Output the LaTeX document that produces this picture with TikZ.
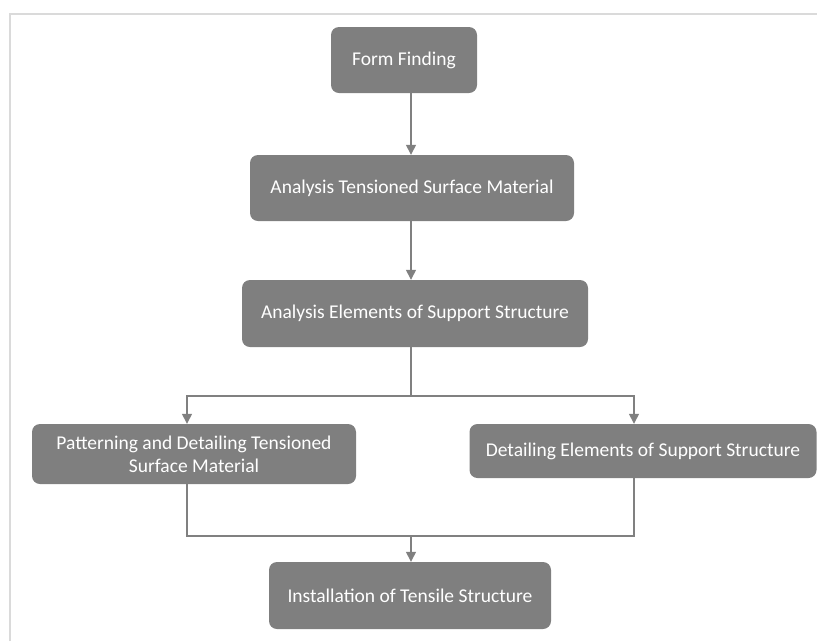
\documentclass[tikz,border=0pt]{standalone}
\usepackage{fontspec}
\setmainfont{Carlito}
\usetikzlibrary{arrows.meta}
\definecolor{boxgray}{RGB}{127,127,127}
\definecolor{linegray}{RGB}{128,128,128}
\definecolor{framegray}{RGB}{218,218,218}
\begin{document}
\begin{tikzpicture}[
  x=1pt, y=-1pt,
  stepbox/.style={rectangle, rounded corners=8pt, fill=boxgray, text=white, inner sep=0pt,
    align=center, font=\fontsize{19.5}{23}\selectfont},
  link/.style={draw=linegray, line width=1.4pt},
  flow/.style={link, -{Triangle[length=10pt, width=10pt]}}
]
  \useasboundingbox (0,0) rectangle (817,641);
  % frame
  \draw[framegray, line width=1.5pt] (10,641) -- (10,14) -- (817,14);

  % main column
  \node[stepbox, minimum width=146pt, minimum height=66pt] (ff) at (404,60) {Form Finding};
  \node[stepbox, minimum width=324pt, minimum height=66pt] (ats) at (412,188) {Analysis Tensioned Surface Material};
  \node[stepbox, minimum width=346pt, minimum height=67pt] (aes) at (415,313.5) {Analysis Elements of Support Structure};

  % two branches
  \node[stepbox, minimum width=324pt, minimum height=60pt] (pat) at (194,454) {Patterning and Detailing Tensioned\\Surface Material};
  \node[stepbox, minimum width=347pt, minimum height=54pt] (des) at (643,451) {Detailing Elements of Support Structure};

  % last step
  \node[stepbox, minimum width=282pt, minimum height=67pt] (ins) at (410,595.5) {Installation of Tensile Structure};

  % helper coordinates
  \coordinate (spine) at (411,0);
  \coordinate (lx) at (187,0);
  \coordinate (rx) at (634,0);
  \coordinate (split) at (411,396);
  \coordinate (join) at (411,536);

  % connectors
  \draw[flow] (ff.south -| spine) -- (ats.north -| spine);
  \draw[flow] (ats.south -| spine) -- (aes.north -| spine);
  \draw[link] (aes.south -| spine) -- (split);
  \draw[flow] (split) -- (split -| lx) -- (pat.north -| lx);
  \draw[flow] (split) -- (split -| rx) -- (des.north -| rx);
  \draw[link] (pat.south -| lx) -- (join -| lx) -- (join -| rx) -- (des.south -| rx);
  \draw[flow] (join) -- (ins.north -| spine);
\end{tikzpicture}
\end{document}
